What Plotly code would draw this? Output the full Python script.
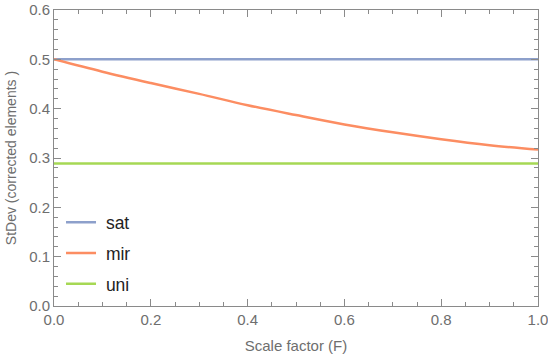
import plotly.graph_objects as go

F = [0.0, 0.1, 0.2, 0.3, 0.4, 0.5, 0.6, 0.7, 0.8, 0.9, 1.0]
sat = [0.5] * len(F)
mir = [0.500, 0.475, 0.452, 0.430, 0.407, 0.387, 0.368, 0.352, 0.338, 0.326, 0.317]
uni = [0.2887] * len(F)

series = [("sat", sat, "#8da0cb"), ("mir", mir, "#fc8d62"), ("uni", uni, "#a6d854")]

fig = go.Figure()
for name, ys, col in series:
    fig.add_trace(go.Scatter(x=F, y=ys, mode="lines", name="\u00a0" + name, legendgroup=name,
                             line=dict(color=col, width=2.5, shape="spline")))

axis_common = dict(
    showline=True, linecolor="#8a8a8a", linewidth=1, mirror="allticks",
    ticks="inside", ticklen=7, tickcolor="#8a8a8a", tickwidth=1,
    showgrid=False, zeroline=False, automargin=False, ticklabeloverflow="allow",
    tickfont=dict(family="Liberation Sans, Arial", size=15, color="#6e6e6e"),
    tickformat=".1f",
)

fig.update_xaxes(range=[0, 1], dtick=0.2, title_text="Scale factor (F)", title_standoff=13,
                 title_font=dict(family="Liberation Sans, Arial", size=15, color="#6e6e6e"),
                 minor=dict(ticks="inside", ticklen=4, tickcolor="#8a8a8a", dtick=0.05),
                 **axis_common)
fig.update_yaxes(range=[0, 0.6], dtick=0.1, title_text="StDev (corrected elements )", title_standoff=9,
                 title_font=dict(family="Liberation Sans, Arial", size=14, color="#6e6e6e"),
                 minor=dict(ticks="inside", ticklen=4, tickcolor="#8a8a8a", dtick=0.02),
                 **axis_common)

fig.update_layout(
    width=548, height=362,
    margin=dict(l=54, r=10, t=10, b=56),
    plot_bgcolor="white", paper_bgcolor="white",
    showlegend=True,
    legend=dict(x=0.0145, y=0.012, xanchor="left", yanchor="bottom",
                bgcolor="rgba(0,0,0,0)", traceorder="grouped", tracegroupgap=5,
                itemwidth=30,
                font=dict(family="Liberation Sans, Arial", size=17.5, color="#222222")),
)

fig.write_html("out.html", config={"displayModeBar": False},
               post_script="document.body.style.margin='0';document.body.style.overflow='hidden';")
